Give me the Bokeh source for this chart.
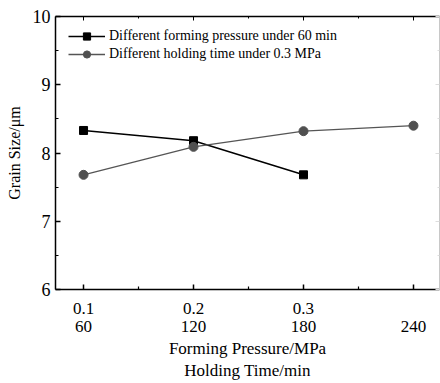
from bokeh.plotting import figure
from bokeh.models import (Range1d, LinearAxis, FixedTicker, CustomJSTickFormatter,
                          Legend, LegendItem, ColumnDataSource)
from bokeh.embed import file_html
from bokeh.resources import INLINE

# ---- data ----
pressure = [0.1, 0.2, 0.3]                 # MPa (holding 60 min)
size_pressure = [8.33, 8.18, 7.68]         # um
holding_time = [60, 120, 180, 240]         # min (pressure 0.3 MPa)
size_time = [7.68, 8.09, 8.32, 8.40]       # um
time_ticks = [60, 120, 180, 240]
pressure_ticks = [0.1, 0.2, 0.3, 0.4]
y_ticks = [6, 7, 8, 9, 10]

FONT = "Liberation Serif"

t0, t1 = 44.7, 254.2
scale = 600.0  # 0.1 MPa <-> 60 min on the shared frame
p = figure(width=440, height=383, output_backend="svg", toolbar_location=None,
           x_range=Range1d(t0, t1), y_range=Range1d(6, 10),
           x_axis_location=None, y_axis_location=None,
           min_border_left=55, min_border_right=1, min_border_top=16, min_border_bottom=94)
p.extra_x_ranges = {"pressure": Range1d(t0 / scale, t1 / scale)}
p.grid.visible = False
p.outline_line_color = None
p.background_fill_color = "white"
p.border_fill_color = "white"

blank = CustomJSTickFormatter(code="return '';")

# left axis
ya = LinearAxis(ticker=FixedTicker(ticks=y_ticks, minor_ticks=[6.5, 7.5, 8.5, 9.5]),
                axis_label="Grain Size/\u03bcm")
ya.axis_line_color = "black"; ya.major_tick_line_color = "black"; ya.minor_tick_line_color = "black"
ya.major_tick_in = 5; ya.major_tick_out = 0
ya.minor_tick_in = 3; ya.minor_tick_out = 0
ya.axis_line_width = 1.5; ya.major_tick_line_width = 1.5; ya.minor_tick_line_width = 1.2
ya.major_label_text_font = FONT; ya.major_label_text_font_size = "18px"
ya.major_label_text_color = "black"
ya.major_label_standoff = 5
ya.axis_label_text_font = FONT; ya.axis_label_text_font_size = "16px"
ya.axis_label_text_color = "black"
ya.axis_label_text_font_style = "normal"; ya.axis_label_standoff = 7
p.add_layout(ya, "left")

# right axis (faint)
ra = LinearAxis(ticker=FixedTicker(ticks=y_ticks, minor_ticks=[6.5, 7.5, 8.5, 9.5]),
                formatter=blank, major_label_standoff=0)
ra.axis_line_color = "#c8c8c8"; ra.major_tick_line_color = "#dddddd"; ra.minor_tick_line_color = "#dddddd"
ra.major_tick_in = 4; ra.major_tick_out = 0; ra.minor_tick_in = 2; ra.minor_tick_out = 0
p.add_layout(ra, "right")

# top axis
ta = LinearAxis(ticker=FixedTicker(ticks=time_ticks, minor_ticks=[90, 150, 210]),
                formatter=blank, major_label_standoff=0)
ta.axis_line_color = "black"; ta.major_tick_line_color = "black"; ta.minor_tick_line_color = "black"
ta.major_tick_in = 4; ta.major_tick_out = 0; ta.minor_tick_in = 2; ta.minor_tick_out = 0
ta.axis_line_width = 1.5
p.add_layout(ta, "above")

# bottom axis 1: pressure
pa = LinearAxis(x_range_name="pressure",
                ticker=FixedTicker(ticks=pressure_ticks, minor_ticks=[0.15, 0.25, 0.35]),
                formatter=CustomJSTickFormatter(code="return tick > 0.35 ? '' : tick.toFixed(1);"))
pa.axis_line_color = "black"; pa.major_tick_line_color = "black"; pa.minor_tick_line_color = "black"
pa.major_tick_in = 5; pa.major_tick_out = 0; pa.minor_tick_in = 3; pa.minor_tick_out = 0
pa.axis_line_width = 1.5; pa.major_tick_line_width = 1.5; pa.minor_tick_line_width = 1.2
pa.major_label_text_font = FONT; pa.major_label_text_font_size = "17px"
pa.major_label_text_color = "black"
pa.major_label_standoff = 13
p.add_layout(pa, "below")

# bottom axis 2: holding time
ha = LinearAxis(ticker=FixedTicker(ticks=time_ticks, minor_ticks=[]),
                axis_label="Forming Pressure/MPa\nHolding Time/min")
ha.axis_line_color = None; ha.major_tick_line_color = None; ha.minor_tick_line_color = None
ha.major_label_text_font = FONT; ha.major_label_text_font_size = "17px"
ha.major_label_text_color = "black"
ha.major_label_standoff = -2
ha.axis_label_text_font = FONT; ha.axis_label_text_font_size = "17px"
ha.axis_label_text_color = "black"
ha.axis_label_text_font_style = "normal"; ha.axis_label_standoff = 4
p.add_layout(ha, "below")

# series
src_p = ColumnDataSource(dict(x=pressure, y=size_pressure))
src_t = ColumnDataSource(dict(x=holding_time, y=size_time))
l1 = p.line("x", "y", source=src_p, x_range_name="pressure", line_color="black", line_width=1.5)
m1 = p.scatter("x", "y", source=src_p, x_range_name="pressure", marker="square", size=8,
               fill_color="black", line_color="black")
l2 = p.line("x", "y", source=src_t, line_color="#555555", line_width=1.3)
m2 = p.scatter("x", "y", source=src_t, marker="circle", size=9,
               fill_color="#505050", line_color="#505050")

leg = Legend(items=[LegendItem(label="Different forming pressure under 60 min", renderers=[l1, m1]),
                    LegendItem(label="Different holding time under 0.3 MPa", renderers=[l2, m2])],
             location=(13, 226))
leg.padding = 0; leg.margin = 0; leg.spacing = 0
leg.glyph_width = 37; leg.glyph_height = 18; leg.label_height = 18
leg.label_standoff = 4
leg.label_text_font = FONT; leg.label_text_font_size = "14px"
leg.label_text_color = "black"
leg.border_line_color = None; leg.background_fill_alpha = 0
p.add_layout(leg, "center")

open("out.html", "w").write(file_html(p, INLINE))
